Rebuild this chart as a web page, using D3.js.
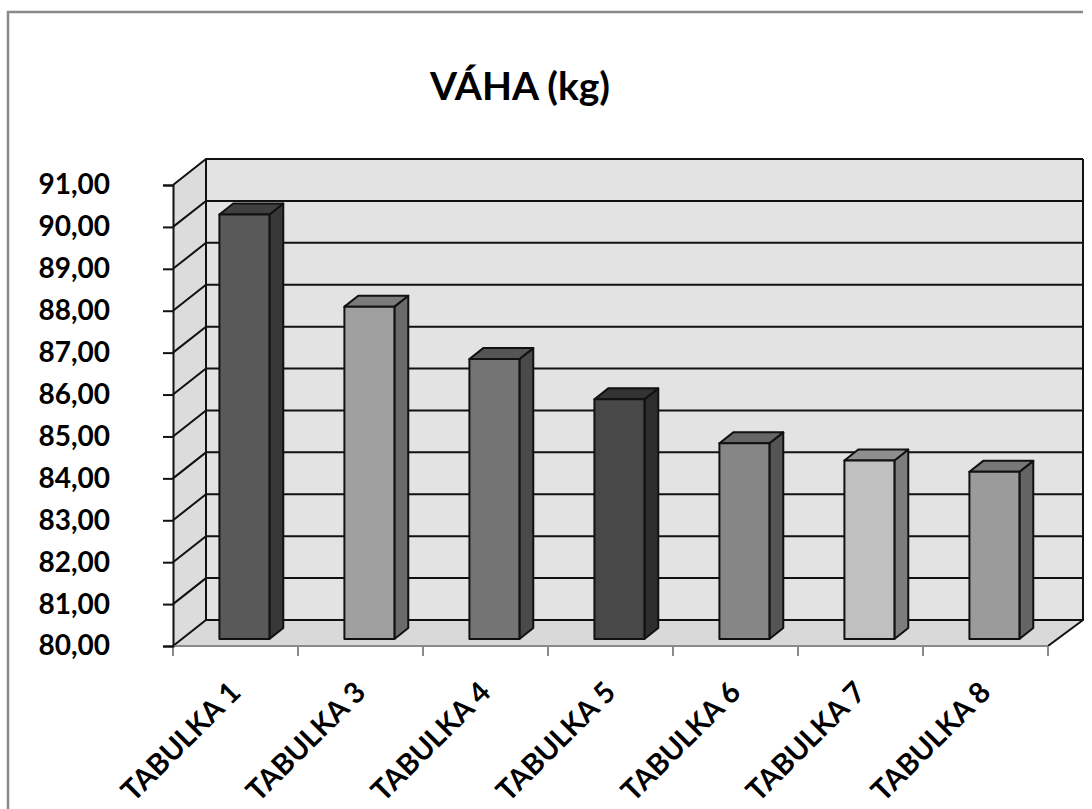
<!DOCTYPE html>
<html>
<head>
<meta charset="utf-8">
<script src="https://cdn.jsdelivr.net/npm/d3@7"></script>
<style>
  html, body { margin: 0; padding: 0; background: #fff; }
  svg { display: block; }
  text { font-family: Lato, "Open Sans", sans-serif; font-weight: 700; fill: #000; }
</style>
</head>
<body>
<svg id="chart" width="1092" height="809"></svg>
<script>
// Weight by table (kg)
const categories = ["TABULKA 1", "TABULKA 3", "TABULKA 4", "TABULKA 5", "TABULKA 6", "TABULKA 7", "TABULKA 8"];
const weights = [90.13, 87.93, 86.68, 85.72, 84.67, 84.26, 83.99];
const tickValues = [80, 81, 82, 83, 84, 85, 86, 87, 88, 89, 90, 91];
const title = "VÁHA (kg)";

// face colours per column: front, top, side
const palette = [
  ["#595959", "#404040", "#383838"],
  ["#a0a0a0", "#7b7b7b", "#6b6b6b"],
  ["#747474", "#555555", "#4a4a4a"],
  ["#484848", "#333333", "#2d2d2d"],
  ["#868686", "#666666", "#555555"],
  ["#c0c0c0", "#8f8f8f", "#7d7d7d"],
  ["#9b9b9b", "#777777", "#646464"]
];

const svg = d3.select("#chart");

// front plane of the plot and the oblique depth vector
const plot = { left: 173, right: 1048, top: 185, bottom: 646 };
const depth = { dx: 33, dy: -26 };
const barNear = 0.27, barFar = 0.69; // column depth as fractions of the floor depth

const x = d3.scaleBand().domain(categories).range([plot.left, plot.right]).paddingInner(0).paddingOuter(0);
const y = d3.scaleLinear().domain([80, 91]).range([plot.bottom, plot.top]);

const off = t => [depth.dx * t, depth.dy * t];
const pts = arr => arr.map(p => p.join(",")).join(" ");

// chart frame (top and left edges)
svg.append("path")
  .attr("d", `M8,809 L8,12 L1083,12`)
  .attr("fill", "none").attr("stroke", "#8a8a8a").attr("stroke-width", 2.5);

// title
svg.append("text")
  .attr("x", 520).attr("y", 100)
  .attr("text-anchor", "middle")
  .attr("font-size", 39)
  .text(title);

const yTop = y(91), yBot = y(80);
const [bx, by] = off(1);

// back wall
svg.append("polygon")
  .attr("points", pts([[plot.left + bx, yTop + by], [plot.right + bx + 2, yTop + by], [plot.right + bx + 2, yBot + by], [plot.left + bx, yBot + by]]))
  .attr("fill", "#e3e3e3");

// side wall
svg.append("polygon")
  .attr("points", pts([[plot.left, yTop], [plot.left + bx, yTop + by], [plot.left + bx, yBot + by], [plot.left, yBot]]))
  .attr("fill", "#dcdcdc");

// floor
svg.append("polygon")
  .attr("points", pts([[plot.left, yBot], [plot.right, yBot], [plot.right + bx, yBot + by], [plot.left + bx, yBot + by]]))
  .attr("fill", "#d9d9d9");

// gridlines on the back and side walls
const grid = svg.append("g").attr("stroke", "#111").attr("stroke-width", 2).attr("fill", "none");
tickValues.forEach(v => {
  const yy = y(v);
  grid.append("path")
    .attr("d", `M${plot.left},${yy} L${plot.left + bx},${yy + by} L${plot.right + bx + 2},${yy + by}`);
});
// back wall outline and vertical edges
grid.append("path").attr("d", `M${plot.left + bx},${yTop + by} L${plot.left + bx},${yBot + by}`);
grid.append("path").attr("d", `M${plot.right + bx + 2},${yTop + by} L${plot.right + bx + 2},${yBot + by} L${plot.right},${yBot}`);

// floor front edge with category ticks
svg.append("path")
  .attr("d", `M${plot.left},${yBot} L${plot.right},${yBot}`)
  .attr("stroke", "#8a8a8a").attr("stroke-width", 2);
const boundaries = categories.map(c => x(c)).concat([plot.right]);
svg.append("g").selectAll("line").data(boundaries).join("line")
  .attr("x1", d => d).attr("x2", d => d)
  .attr("y1", yBot).attr("y2", yBot + 10)
  .attr("stroke", "#8a8a8a").attr("stroke-width", 2);

// value axis on the front plane
const yAxis = d3.axisLeft(y).tickValues(tickValues).tickSize(10)
  .tickFormat(d => d3.format(".2f")(d).replace(".", ","));
const ya = svg.append("g").attr("transform", `translate(${plot.left},0)`).call(yAxis);
ya.select(".domain").attr("stroke", "#111").attr("stroke-width", 2);
ya.selectAll(".tick line").attr("stroke", "#111").attr("stroke-width", 2);
ya.selectAll(".tick text")
  .attr("x", -63)
  .attr("font-size", 28)
  .attr("font-family", "Lato, 'Open Sans', sans-serif")
  .attr("font-weight", 700)
  .attr("fill", "#000");

// columns
const [nx, ny] = off(barNear);
const [fx, fy] = off(barFar);
const barW = 50;
const bars = svg.append("g").attr("stroke", "#111").attr("stroke-width", 2).attr("stroke-linejoin", "round");
categories.forEach((c, i) => {
  const cx = x(c) + x.bandwidth() / 2;
  const x0 = cx - barW / 2, x1 = cx + barW / 2;
  const yv = y(weights[i]), y0 = y(80);
  const col = palette[i];
  // side face
  bars.append("polygon")
    .attr("points", pts([[x1 + nx, yv + ny], [x1 + fx, yv + fy], [x1 + fx, y0 + fy], [x1 + nx, y0 + ny]]))
    .attr("fill", col[2]);
  // top face
  bars.append("polygon")
    .attr("points", pts([[x0 + nx, yv + ny], [x1 + nx, yv + ny], [x1 + fx, yv + fy], [x0 + fx, yv + fy]]))
    .attr("fill", col[1]);
  // front face
  bars.append("polygon")
    .attr("points", pts([[x0 + nx, yv + ny], [x1 + nx, yv + ny], [x1 + nx, y0 + ny], [x0 + nx, y0 + ny]]))
    .attr("fill", col[0]);
});

// category labels, rotated
svg.append("g").selectAll("text").data(categories).join("text")
  .attr("text-anchor", "end")
  .attr("font-size", 29)
  .attr("transform", d => `translate(${x(d) + x.bandwidth() / 2 + 7},${694}) rotate(-45)`)
  .text(d => d);
</script>
</body>
</html>
